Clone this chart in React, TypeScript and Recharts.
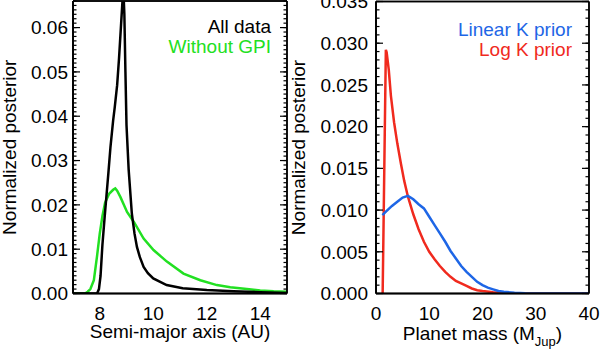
import { LineChart, Line, XAxis, YAxis, Legend } from "recharts"

const FONT = '"Liberation Sans", Arial, Helvetica, sans-serif'
const INK = "#000"

// left panel: semi-major axis (AU) vs posterior
const allDataAxis = [7.0, 7.9, 7.97, 8.03, 8.1, 8.18, 8.25, 8.32, 8.4, 8.5, 8.56, 8.65, 8.72, 8.8, 8.88, 8.92, 8.96, 9.0, 9.08, 9.2, 9.3, 9.39, 9.5, 9.64, 9.8, 10.0, 10.5, 11.1, 12.0, 13.0, 14.0, 15.0]
const allDataPost = [0, 0, 0.001, 0.004, 0.011, 0.017, 0.022, 0.027, 0.033, 0.039, 0.042, 0.047, 0.053, 0.061, 0.069, 0.063, 0.05, 0.038, 0.028, 0.018, 0.0135, 0.0105, 0.0082, 0.006, 0.0046, 0.0034, 0.0019, 0.0012, 0.0008, 0.0005, 0.0003, 0.0001]
const noGpiAxis = [7.0, 7.45, 7.55, 7.65, 7.78, 7.9, 8.0, 8.1, 8.2, 8.35, 8.5, 8.58, 8.65, 8.77, 9.02, 9.27, 9.64, 10.01, 10.51, 11.13, 11.76, 12.38, 12.88, 13.5, 14.0, 14.5, 15.0]
const noGpiPost = [0, 0, 0.0004, 0.001, 0.003, 0.0085, 0.0135, 0.0175, 0.0205, 0.0225, 0.0234, 0.0237, 0.0232, 0.0218, 0.0184, 0.0162, 0.0124, 0.0098, 0.0072, 0.0045, 0.003, 0.0019, 0.0014, 0.001, 0.0007, 0.0005, 0.0004]

// right panel: planet mass (M_Jup) vs posterior
const linearMass = [1.2, 2, 3, 4, 5, 6, 7, 8, 9, 10, 11, 12, 13, 14, 15, 16, 17, 18, 19, 20, 21, 22, 23, 24, 26, 28, 30, 40]
const linearPost = [0.0094, 0.0099, 0.0105, 0.011, 0.0115, 0.0117, 0.0113, 0.0107, 0.0102, 0.0092, 0.0082, 0.0072, 0.0062, 0.0051, 0.0042, 0.0033, 0.0026, 0.002, 0.0014, 0.001, 0.0007, 0.0005, 0.0003, 0.0002, 0.0001, 0.00003, 0, 0]
const logMass = [1.25, 1.85, 2.0, 2.4, 2.8, 3.4, 4.0, 4.7, 5.3, 6, 7, 8, 9, 10, 11, 12, 13, 14, 15, 16, 17, 18, 19, 20, 22, 25, 28, 40]
const logPost = [0, 0.0292, 0.0289, 0.0268, 0.0237, 0.0205, 0.018, 0.0155, 0.0135, 0.0116, 0.0095, 0.0077, 0.0062, 0.005, 0.0041, 0.0033, 0.0026, 0.002, 0.0015, 0.0012, 0.0009, 0.0006, 0.0004, 0.0003, 0.00015, 0.00004, 0, 0]

// labelled (major) ticks
const axisTickLabels = [8, 10, 12, 14]
const postTickLabelsL = [0, 0.01, 0.02, 0.03, 0.04, 0.05, 0.06]
const massTickLabels = [0, 10, 20, 30, 40]
const postTickLabelsR = [0, 0.005, 0.01, 0.015, 0.02, 0.025, 0.03, 0.035]

const toPoints = (xs: number[], ys: number[]) => xs.map((x, i) => ({ x, y: ys[i] }))

// evenly spaced minor tick positions
function steps(lo: number, hi: number, step: number) {
  const n = Math.round((hi - lo) / step)
  return Array.from({ length: n + 1 }, (_, i) => +(lo + i * step).toFixed(6))
}

const NoLabel = () => null

function XTitle(props: any) {
  const { viewBox, text, sub, tail, drop } = props
  const { x = 0, y = 0, width = 0 } = viewBox || {}
  return (
    <text x={x + width / 2} y={y + drop} textAnchor="middle" fontFamily={FONT} fontSize={19} fill={INK}>
      {text}
      {sub && (
        <tspan fontSize={13} dy={6}>
          {sub}
        </tspan>
      )}
      {tail && <tspan dy={sub ? -6 : 0}>{tail}</tspan>}
    </text>
  )
}

function YTitle(props: any) {
  const { viewBox, text, gap } = props
  const { x = 0, y = 0, width = 0, height = 0 } = viewBox || {}
  const bx = x + width - gap
  const cy = y + height / 2
  return (
    <text x={bx} y={cy} transform={`rotate(-90 ${bx} ${cy})`} textAnchor="middle" fontFamily={FONT} fontSize={19} fill={INK}>
      {text}
    </text>
  )
}

function CornerLegend({ payload, lineHeight }: any) {
  return (
    <div style={{ textAlign: "right", fontFamily: FONT, fontSize: 19, lineHeight: `${lineHeight}px`, whiteSpace: "nowrap" }}>
      {(payload || []).map((e: any) => (
        <div key={e.value} style={{ color: e.color }}>
          {e.value}
        </div>
      ))}
    </div>
  )
}

interface Series {
  name: string
  color: string
  points: { x: number; y: number }[]
}

interface PanelProps {
  left: number
  width: number
  margin: { top: number; right: number; bottom: number; left: number }
  yAxisWidth: number
  xDomain: [number, number]
  yDomain: [number, number]
  xMajor: number[]
  yMajor: number[]
  xStep: number
  yStep: number
  yDigits: number
  yGap: number
  titleGap: number
  xTitle: { text: string; sub?: string; tail?: string; drop: number }
  series: Series[]
  legend: { top: number; right: number; lineHeight: number }
}

// a hair above zero so the axis still renders but takes no room
const HAIR = 0.01

function Panel(p: PanelProps) {
  const xMinor = steps(p.xDomain[0], p.xDomain[1], p.xStep)
  const yMinor = steps(p.yDomain[0], p.yDomain[1], p.yStep)
  const frame = { stroke: INK, strokeWidth: 1.5 }
  const mark = { stroke: INK, strokeWidth: 1.2 }
  const textTick = { fill: INK, fontSize: 19, fontFamily: FONT }
  const xSets: [number[], number][] = [
    [p.xMajor, 7],
    [xMinor, 3.5],
  ]
  const ySets: [number[], number][] = [
    [p.yMajor, 7],
    [yMinor, 3.5],
  ]

  // IDL-style inward ticks on all four sides: mirrored hairline axes
  const xMarks = (["bottom", "top"] as const).flatMap((o) =>
    xSets.map(([ticks, size], i) => (
      <XAxis
        key={`a-${o}-${i}`}
        xAxisId={`a-${o}-${i}`}
        orientation={o}
        mirror
        type="number"
        domain={p.xDomain}
        allowDataOverflow
        ticks={ticks}
        interval={0}
        height={HAIR}
        tickSize={size}
        tick={<NoLabel />}
        tickLine={mark}
        axisLine={frame}
      />
    ))
  )
  const yMarks = (["left", "right"] as const).flatMap((o) =>
    ySets.map(([ticks, size], i) => (
      <YAxis
        key={`a-${o}-${i}`}
        yAxisId={`a-${o}-${i}`}
        orientation={o}
        mirror
        type="number"
        domain={p.yDomain}
        allowDataOverflow
        ticks={ticks}
        interval={0}
        width={HAIR}
        tickSize={size}
        tick={<NoLabel />}
        tickLine={mark}
        axisLine={frame}
      />
    ))
  )

  return (
    <div style={{ position: "absolute", left: p.left, top: 0 }}>
      <LineChart width={p.width} height={351} margin={p.margin}>
        {xMarks}
        {yMarks}
        <XAxis
          xAxisId="z-x"
          type="number"
          dataKey="x"
          domain={p.xDomain}
          allowDataOverflow
          ticks={p.xMajor}
          interval={0}
          height={50}
          tickSize={0}
          tickMargin={13}
          tickLine={false}
          axisLine={frame}
          tick={textTick}
          label={<XTitle {...p.xTitle} />}
        />
        <YAxis
          yAxisId="z-y"
          type="number"
          domain={p.yDomain}
          allowDataOverflow
          ticks={p.yMajor}
          interval={0}
          width={p.yAxisWidth}
          tickSize={0}
          tickMargin={p.yGap}
          tickLine={false}
          axisLine={frame}
          tick={textTick}
          tickFormatter={(v: number) => v.toFixed(p.yDigits)}
          label={<YTitle text="Normalized posterior" gap={p.titleGap} />}
        />
        {p.series.map((s) => (
          <Line
            key={s.name}
            xAxisId="z-x"
            yAxisId="z-y"
            data={s.points}
            dataKey="y"
            name={s.name}
            type="linear"
            stroke={s.color}
            strokeWidth={2.5}
            dot={false}
            activeDot={false}
            isAnimationActive={false}
          />
        ))}
        <Legend
          layout="vertical"
          align="center"
          verticalAlign="middle"
          content={<CornerLegend lineHeight={p.legend.lineHeight} />}
          wrapperStyle={{ top: p.legend.top, right: p.legend.right, left: "auto", bottom: "auto", width: "auto", height: "auto" }}
        />
      </LineChart>
    </div>
  )
}

export default function App() {
  return (
    <div style={{ position: "absolute", left: 0, top: 0, width: 600, height: 351, background: "#fff", fontFamily: FONT }}>
      <Panel
        left={0}
        width={300}
        margin={{ top: 1, right: 13, bottom: 7.5, left: 13 }}
        yAxisWidth={60}
        xDomain={[7, 15]}
        yDomain={[0, 0.066]}
        xMajor={axisTickLabels}
        yMajor={postTickLabelsL}
        xStep={0.5}
        yStep={0.001}
        yDigits={2}
        yGap={5}
        titleGap={57}
        xTitle={{ text: "Semi-major axis (AU)", drop: 44 }}
        series={[
          { name: "Without GPI", color: "#22e022", points: toPoints(noGpiAxis, noGpiPost) },
          { name: "All data", color: "#000000", points: toPoints(allDataAxis, allDataPost) },
        ]}
        legend={{ top: 16.5, right: 29, lineHeight: 20 }}
      />
      <Panel
        left={282}
        width={318}
        margin={{ top: 1.5, right: 11, bottom: 7.5, left: 14 }}
        yAxisWidth={80}
        xDomain={[0, 40]}
        yDomain={[0, 0.035]}
        xMajor={massTickLabels}
        yMajor={postTickLabelsR}
        xStep={1}
        yStep={0.001}
        yDigits={3}
        yGap={8}
        titleGap={71}
        xTitle={{ text: "Planet mass (M", sub: "Jup", tail: ")", drop: 46 }}
        series={[
          { name: "Log K prior", color: "#f02a1e", points: toPoints(logMass, logPost) },
          { name: "Linear K prior", color: "#1e66e6", points: toPoints(linearMass, linearPost) },
        ]}
        legend={{ top: 20.4, right: 28, lineHeight: 20 }}
      />
    </div>
  )
}
